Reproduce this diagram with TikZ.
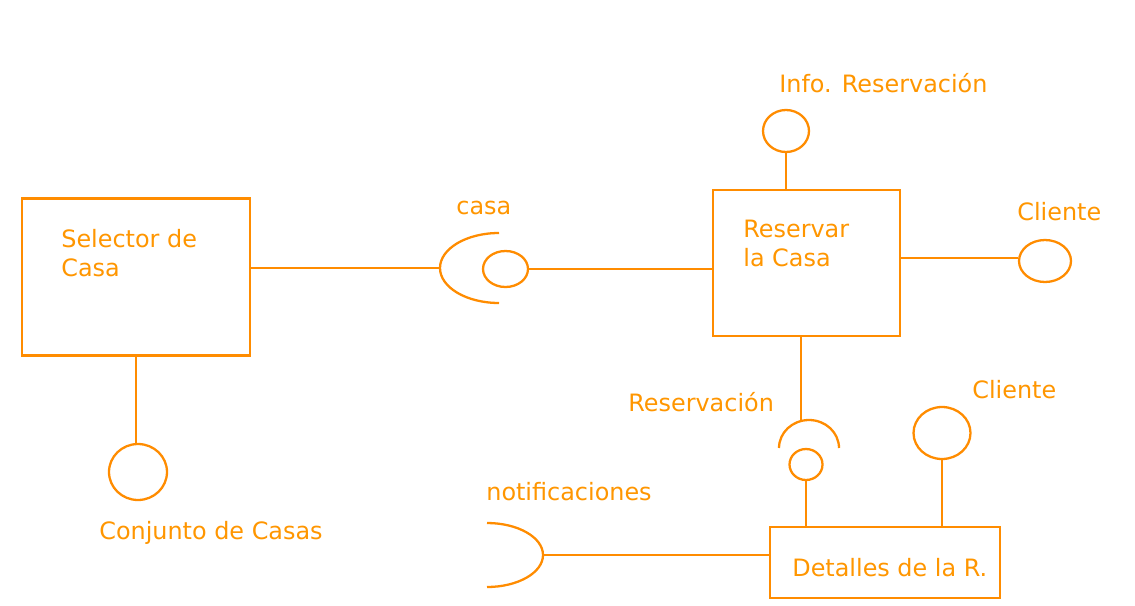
\documentclass[tikz,border=0pt]{standalone}
\usepackage{fontspec}
\setmainfont{DejaVu Sans}
\usetikzlibrary{shapes.geometric}
\definecolor{naranja}{RGB}{255,140,0}
\definecolor{naranjatxt}{RGB}{255,150,0}
\begin{document}
\begin{tikzpicture}[x=0.02cm,y=0.02cm]
        \tikzstyle{comp}=[rectangle,draw=naranja,line width=1.3pt,inner sep=0pt]
        \tikzstyle{iface}=[ellipse,draw=naranja,line width=1.3pt,inner sep=0pt]
        \tikzstyle{edge}=[draw=naranja,line width=1.3pt]
        \tikzstyle{lbl}=[text=naranjatxt,inner sep=0pt,font=\fontsize{13.6}{16.4}\selectfont]
        \fill[white] (0,0) rectangle (1135,-605);
        \useasboundingbox (0,0) rectangle (1135,-605);
    	\begin{scope}
         \node [comp,minimum width=4.56cm,minimum height=3.14cm] (sel) at (136,-277) {};
         \node [comp,minimum width=3.74cm,minimum height=2.92cm] (res) at (806.5,-263) {};
         \node [comp,minimum width=4.6cm,minimum height=1.42cm] (det) at (885,-562.5) {};
         \node [lbl,anchor=north west,align=left] (seltxt) at (61,-228.8) {Selector de\\Casa};
         \node [lbl,anchor=north west,align=left] (restxt) at (743,-219.5) {Reservar\\la Casa};
         \node [lbl,anchor=base west] (dettxt) at (792,-576) {Detalles de la R.};

         \node [iface,minimum width=1.16cm,minimum height=1.12cm] (conj) at (138,-472) {};
         \node [iface,minimum width=0.9cm,minimum height=0.72cm] (casab) at (505.5,-269) {};
         \node [iface,minimum width=0.92cm,minimum height=0.84cm] (info) at (786,-131) {};
         \node [iface,minimum width=1.04cm,minimum height=0.84cm] (cli1) at (1045,-261) {};
         \node [iface,minimum width=0.66cm,minimum height=0.62cm] (rsvb) at (806,-464.5) {};
         \node [iface,minimum width=1.14cm,minimum height=1.04cm] (cli2) at (942,-433) {};

         \coordinate (casaT) at (499,-233);
         \coordinate (casaS) at (440,-268);
         \coordinate (rsvL) at (779,-448);
         \coordinate (rsvT) at (801,-421);
         \coordinate (notT) at (487,-523);
         \coordinate (notR) at (543,-555);

         \path[edge] (casaT) arc[start angle=90,end angle=270,x radius=59,y radius=35];
         \path[edge] (rsvL) arc[start angle=180,end angle=0,x radius=30,y radius=28];
         \path[edge] (notT) arc[start angle=90,end angle=-90,x radius=56,y radius=32];

         \path[edge] (sel.east |- casaS) to (casaS);
         \path[edge] (casab.east) to (res.west |- casab.east);
         \path[edge] (sel.south) to (sel.south |- conj.north);
         \path[edge] (info.south) to (info.south |- res.north);
         \path[edge] (res.east |- 0,-258) to (cli1.west |- 0,-258);
         \path[edge] (res.south -| rsvT) to (rsvT);
         \path[edge] (rsvb.south) to (rsvb.south |- det.north);
         \path[edge] (cli2.south) to (cli2.south |- det.north);
         \path[edge] (notR) to (det.west |- notR);

         \node [lbl,anchor=base west] (casal) at (456,-214) {casa};
         \node [lbl,anchor=base west] (infol) at (779,-92) {Info. Reservación};
         \node [lbl,anchor=base west] (cli1l) at (1017,-220) {Cliente};
         \node [lbl,anchor=base west] (rsvl) at (628,-411) {Reservación};
         \node [lbl,anchor=base west] (cli2l) at (972,-398) {Cliente};
         \node [lbl,anchor=base west] (notl) at (486,-500) {notificaciones};
         \node [lbl,anchor=base west] (conjl) at (99,-539) {Conjunto de Casas};
         \end{scope}
\end{tikzpicture}
\end{document}
